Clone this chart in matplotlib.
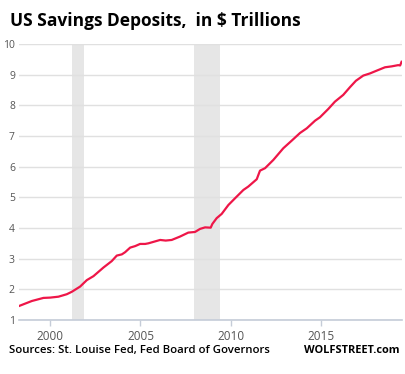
import matplotlib.pyplot as plt

# values (decimal year, $ trillions)
years = [1998.25, 1998.99, 1999.63, 2000.0, 2000.46, 2000.92, 2001.20, 2001.66,
         2002.03, 2002.40, 2002.95, 2003.41, 2003.69, 2003.97, 2004.15, 2004.43,
         2004.71, 2004.98, 2005.26, 2005.44, 2006.09, 2006.40, 2006.73, 2007.19,
         2007.65, 2008.02, 2008.30, 2008.58, 2008.89, 2008.98, 2009.22, 2009.50,
         2009.87, 2010.24, 2010.70, 2010.97, 2011.44, 2011.62, 2011.90, 2012.36,
         2012.91, 2013.38, 2013.84, 2014.21, 2014.67, 2014.94, 2015.40, 2015.77,
         2016.23, 2016.60, 2016.93, 2017.34, 2017.71, 2018.08, 2018.54, 2018.91,
         2019.27, 2019.38, 2019.46]
deposits = [1.45, 1.62, 1.72, 1.73, 1.76, 1.84, 1.92, 2.09,
            2.30, 2.43, 2.71, 2.92, 3.10, 3.14, 3.21, 3.36,
            3.41, 3.48, 3.48, 3.50, 3.61, 3.59, 3.61, 3.72,
            3.85, 3.87, 3.97, 4.02, 4.01, 4.13, 4.32, 4.46,
            4.75, 4.97, 5.24, 5.35, 5.59, 5.87, 5.95, 6.22,
            6.60, 6.85, 7.10, 7.25, 7.50, 7.61, 7.88, 8.12,
            8.34, 8.59, 8.80, 8.97, 9.04, 9.13, 9.24, 9.27,
            9.31, 9.30, 9.42]

recessions = [(2001.20, 2001.90), (2007.97, 2009.42)]
xticks = [2000, 2005, 2010, 2015]
yticks = list(range(1, 11))

plt.rcParams['font.family'] = ['Open Sans', 'DejaVu Sans']

fig = plt.figure(figsize=(4.06, 3.74), dpi=100)
ax = fig.add_axes([0.047, 0.1444, 0.943, 0.738])

for start, end in recessions:
    ax.axvspan(start, end, color='#e6e6e6', lw=0, zorder=0)

ax.plot(years, deposits, color='#ee1648', lw=1.6, zorder=3)

ax.set_xlim(1998.28, 2019.48)
ax.set_ylim(1, 10)
ax.set_xticks(xticks)
ax.set_yticks(yticks)
ax.yaxis.grid(True, color='#e0e0e0', lw=1, zorder=1)
ax.set_axisbelow(True)

for s in ['top', 'right', 'left']:
    ax.spines[s].set_visible(False)
ax.spines['bottom'].set_color('#c5ccd8')
ax.spines['bottom'].set_linewidth(1.2)

ax.tick_params(axis='x', colors='#c5ccd8', labelcolor='#555555', labelsize=8.5,
               length=4, width=1, pad=3)
ax.tick_params(axis='y', length=0, labelcolor='#555555', labelsize=7.5, pad=3)

fig.text(0.025, 0.945, 'US Savings Deposits,  in $ Trillions', fontsize=12.5,
         fontweight='bold', ha='left', va='center')
fig.text(0.022, 0.062, 'Sources: St. Louise Fed, Fed Board of Governors',
         fontsize=8.2, fontweight='semibold', ha='left', va='center')
fig.text(0.983, 0.062, 'WOLFSTREET.com', fontsize=7.9, fontweight='bold',
         ha='right', va='center')

fig.savefig('out.png', dpi=100)
